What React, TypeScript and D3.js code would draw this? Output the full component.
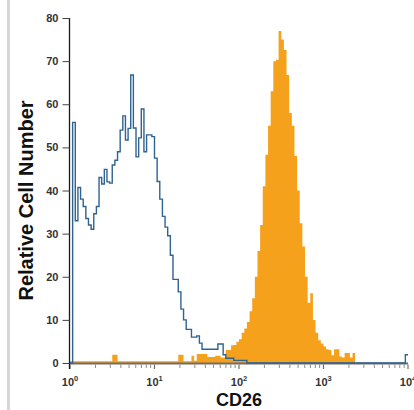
import React, { useEffect, useRef } from "react";
import * as d3 from "d3";

// 128 log-spaced channels over 10^0..10^4
const nBins = 128;

const isotypeCounts = [
  0, 55.8, 33, 40.7, 38, 36.3, 33.5, 32, 31, 34.6, 36.3, 43, 41.5, 44.9, 42, 41.7,
  45.9, 47, 49, 54, 57.3, 51.7, 54.4, 66.8, 54.5, 47.8, 52.2, 58.9, 49, 52.9, 52.9, 52.5,
  47.5, 42.1, 38, 34, 31.5, 29.5, 25, 19.4, 19.4, 16.5, 12.5, 10, 7.8, 7.8, 6, 6,
  6.3, 4.6, 3.2, 3.2, 3.2, 3.2, 3.2, 3.2, 4.4, 4.4, 1.9, 1.1, 1.1, 1.1, 0.6, 0.6,
  0.6, 0.6, 0.6, 0, 0, 0, 0, 0, 0, 0, 0, 0, 0, 0, 0, 0,
  0, 0, 0, 0, 0, 0, 0, 0, 0, 0, 0, 0, 0, 0, 0, 0,
  0, 0, 0, 0, 0, 0, 0, 0, 0, 0, 0, 0, 0, 0, 0, 0,
  0, 0, 0, 0, 0, 0, 0, 0, 0, 0, 0, 0, 0, 0, 0, 1.9,
];

const cd26Counts = [
  0.4, 0.4, 0.4, 0.4, 0.4, 0.4, 0.4, 0.4, 0.4, 0.4, 0.4, 0.4, 0.4, 0.4, 0.4, 0.4,
  1.9, 1.9, 0.4, 0.4, 0.4, 0.4, 0.4, 0.4, 0.4, 0.4, 0.4, 0.4, 0.4, 0.4, 0.4, 0.4,
  0.4, 0.4, 0.4, 0.4, 0.4, 0.4, 0.4, 0.4, 0.4, 1.9, 1.9, 0.4, 0.4, 0.4, 1.7, 0.5,
  2.1, 2.1, 2.1, 2.1, 1.4, 1.4, 1.4, 1.7, 1.7, 1.3, 1.3, 3, 3, 4.1, 4.2, 4.9,
  5.5, 7, 8, 9.5, 12, 15, 20, 26, 32, 41, 48.3, 55, 63, 70, 70.3, 77,
  75, 72.6, 66.8, 58, 55, 48, 40, 32.4, 27, 20, 14, 16.2, 10, 7, 5.3, 4.5,
  3.8, 3.2, 3, 1.8, 3.2, 3.2, 1.5, 1.3, 2.3, 2.3, 1.3, 2.3, 0, 0, 0, 0,
  0, 0, 0, 0, 0, 0, 0, 0, 0, 0, 0, 0, 0, 0, 0, 0,
];

const yTicks = [0, 10, 20, 30, 40, 50, 60, 70, 80];
const xDecades = [0, 1, 2, 3, 4];
const xLabel = "CD26";
const yLabel = "Relative Cell Number";

export default function App() {
  const svgRef = useRef(null);

  useEffect(() => {
    const svg = d3.select(svgRef.current);
    const width = 414;
    const height = 410;
    const margin = { top: 18, right: 6, bottom: 47, left: 70 };

    svg.selectAll("*").remove();

    const x = d3
      .scaleLog()
      .domain([1, 1e4])
      .range([margin.left, width - margin.right]);
    const y = d3
      .scaleLinear()
      .domain([0, 80])
      .range([height - margin.bottom, margin.top]);

    const edges = d3.range(nBins + 1).map((i) => Math.pow(10, (4 * i) / nBins));
    const toSteps = (counts) =>
      edges.map((e, i) => ({ e, v: counts[Math.min(i, nBins - 1)] }));

    // left frame strip
    svg
      .append("rect")
      .attr("x", 7)
      .attr("y", 0)
      .attr("width", 3)
      .attr("height", height)
      .attr("fill", "#d6d6d6");

    // filled CD26 histogram
    const area = d3
      .area()
      .x((d) => x(d.e))
      .y0(y(0))
      .y1((d) => y(d.v))
      .curve(d3.curveStepAfter);

    svg
      .append("path")
      .datum(toSteps(cd26Counts))
      .attr("d", area)
      .attr("fill", "#f6a11c");

    // x axis line and ticks
    const xg = svg.append("g");
    xg.append("line")
      .attr("x1", x(1))
      .attr("x2", x(1e4))
      .attr("y1", y(0) + 0.5)
      .attr("y2", y(0) + 0.5)
      .attr("stroke", "#6e6e6e")
      .attr("stroke-width", 2);

    const minor = [];
    xDecades.slice(0, 4).forEach((k) => {
      for (let m = 2; m <= 9; m++) minor.push(m * Math.pow(10, k));
    });
    xg.selectAll(".minor")
      .data(minor)
      .enter()
      .append("line")
      .attr("x1", (d) => x(d))
      .attr("x2", (d) => x(d))
      .attr("y1", y(0) + 1.5)
      .attr("y2", y(0) + 5)
      .attr("stroke", "#8a8a8a")
      .attr("stroke-width", 1);
    xg.selectAll(".major")
      .data(xDecades)
      .enter()
      .append("line")
      .attr("x1", (d) => x(Math.pow(10, d)))
      .attr("x2", (d) => x(Math.pow(10, d)))
      .attr("y1", y(0) + 1.5)
      .attr("y2", y(0) + 6)
      .attr("stroke", "#6e6e6e")
      .attr("stroke-width", 1.2);

    const lbl = xg
      .selectAll(".xl")
      .data(xDecades)
      .enter()
      .append("text")
      .attr("x", (d) => x(Math.pow(10, d)))
      .attr("y", y(0) + 23)
      .attr("text-anchor", "middle")
      .attr("font-family", "'Liberation Sans', Arial, sans-serif")
      .attr("font-size", 11)
      .attr("font-weight", "bold")
      .attr("fill", "#333");
    lbl.append("tspan").text("10");
    lbl
      .append("tspan")
      .attr("dy", -5)
      .attr("font-size", 7.5)
      .text((d) => d);

    // y axis
    const yAxis = svg
      .append("g")
      .attr("transform", `translate(${margin.left - 0.5},0)`)
      .call(
        d3.axisLeft(y).tickValues(yTicks).tickSize(7).tickSizeOuter(0).tickPadding(4)
      );
    yAxis
      .select(".domain")
      .attr("stroke", "#1a1a1a")
      .attr("stroke-width", 1.3)
      .attr("d", `M0,${y(80)}V${y(0) + 6}`);
    yAxis.selectAll(".tick line").attr("stroke", "#444");
    yAxis
      .selectAll(".tick text")
      .attr("font-family", "'Liberation Sans', Arial, sans-serif")
      .attr("font-size", 11)
      .attr("font-weight", "bold")
      .attr("fill", "#333");

    // isotype outline histogram
    const line = d3
      .line()
      .x((d) => x(d.e))
      .y((d) => y(d.v))
      .curve(d3.curveStepAfter);

    svg
      .append("path")
      .datum(toSteps(isotypeCounts))
      .attr("d", line)
      .attr("fill", "none")
      .attr("stroke", "#2f6391")
      .attr("stroke-width", 1.4);

    // axis titles
    svg
      .append("text")
      .attr("x", (x(1) + x(1e4)) / 2)
      .attr("y", 406)
      .attr("text-anchor", "middle")
      .attr("font-family", "'Liberation Sans', Arial, sans-serif")
      .attr("font-size", 18)
      .attr("font-weight", "bold")
      .attr("fill", "#111")
      .text(xLabel);

    svg
      .append("text")
      .attr("transform", `translate(33,${(y(0) + y(80)) / 2 + 10}) rotate(-90)`)
      .attr("text-anchor", "middle")
      .attr("font-family", "'Liberation Sans', Arial, sans-serif")
      .attr("font-size", 20)
      .attr("font-weight", "bold")
      .attr("fill", "#111")
      .text(yLabel);
  }, []);

  return (
    <svg
      ref={svgRef}
      width="414"
      height="410"
      style={{ position: "absolute", left: 0, top: 0, background: "#fff" }}
    />
  );
}
